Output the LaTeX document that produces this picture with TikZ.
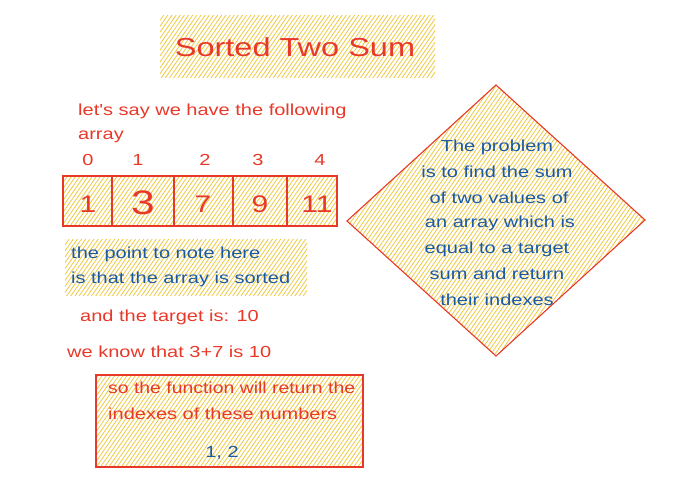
\documentclass[tikz,border=0pt]{standalone}
\usepackage{fontspec}
\setmainfont{Liberation Sans}
\newfontfamily\handfont[FakeStretch=1.25]{Liberation Sans}
\usetikzlibrary{patterns.meta}
\definecolor{sred}{RGB}{232,56,40}
\definecolor{sblue}{RGB}{28,90,160}
\definecolor{shatch}{RGB}{238,200,60}
\tikzset{
  hatch/.style={pattern={Lines[angle=55,distance=3.4pt,line width=0.8pt]},pattern color=shatch},
  redline/.style={draw=sred,line width=1.1pt},
  rtext/.style={text=sred,font=\handfont\fontsize{16}{19}\selectfont,inner sep=0pt},
  btext/.style={text=sblue,font=\handfont\fontsize{16}{19}\selectfont,inner sep=0pt},
  bigtext/.style={text=sred,font=\handfont\fontsize{24}{28}\selectfont,inner sep=0pt},
}
\begin{document}
\begin{tikzpicture}[x=1pt,y=-1pt]
\useasboundingbox (0,0) rectangle (696,486);
% title
\path[hatch] (160,16) rectangle (435,78);
\node[text=sred,font=\handfont\fontsize{26}{30}\selectfont,inner sep=0pt] (title) at (295,47) {Sorted Two Sum};
% intro
\node[rtext,anchor=west] (intro1) at (78,111) {let's say we have the following};
\node[rtext,anchor=west] (intro2) at (78,137) {array};
% indexes
\node[rtext] (i0) at (88,160) {0};
\node[rtext] (i1) at (138,160) {1};
\node[rtext] (i2) at (205,160) {2};
\node[rtext] (i3) at (258,160) {3};
\node[rtext] (i4) at (320,160) {4};
% array
\path[hatch] (63,176) rectangle (337,226);
\draw[redline] (63,176) rectangle (337,226);
\draw[redline] (112,176) -- (112,226);
\draw[redline] (174,176) -- (174,226);
\draw[redline] (233,176) -- (233,226);
\draw[redline] (287,176) -- (287,226);
\node[bigtext] (v0) at (88,204) {1};
\node[bigtext,font=\handfont\fontsize{34}{38}\selectfont] (v1) at (143,203) {3};
\node[bigtext] (v2) at (203,204) {7};
\node[bigtext] (v3) at (260,204) {9};
\node[bigtext] (v4) at (317,204) {11};
% note
\path[hatch] (65,240) rectangle (307,296);
\node[btext,anchor=west] (note1) at (71,254) {the point to note here};
\node[btext,anchor=west] (note2) at (71,279) {is that the array is sorted};
% target
\node[rtext,anchor=west] (target) at (80,317) {and the target is: 10};
\node[rtext,anchor=west] (know) at (67,352) {we know that 3+7 is 10};
% result box
\path[hatch] (96,375) rectangle (363,467);
\draw[redline] (96,375) rectangle (363,467);
\node[rtext,anchor=west] (res1) at (108,388) {\scalebox{0.97}[1]{so the function will return the}};
\node[rtext,anchor=west] (res2) at (108,414) {indexes of these numbers};
\node[btext] (res3) at (222,453) {1, 2};
% diamond
\path[hatch] (496,85) -- (645,220) -- (496,356) -- (347,221) -- cycle;
\draw[redline] (496,85) -- (645,220) -- (496,356) -- (347,221) -- cycle;
\node[btext] (d1) at (497,147) {The problem};
\node[btext] (d2) at (497,172) {is to find the sum};
\node[btext] (d3) at (499,198) {of two values of};
\node[btext] (d4) at (500,223) {an array which is};
\node[btext] (d5) at (497,249) {equal to a target};
\node[btext] (d6) at (497,274) {sum and return};
\node[btext] (d7) at (497,300) {their indexes};
\end{tikzpicture}
\end{document}
